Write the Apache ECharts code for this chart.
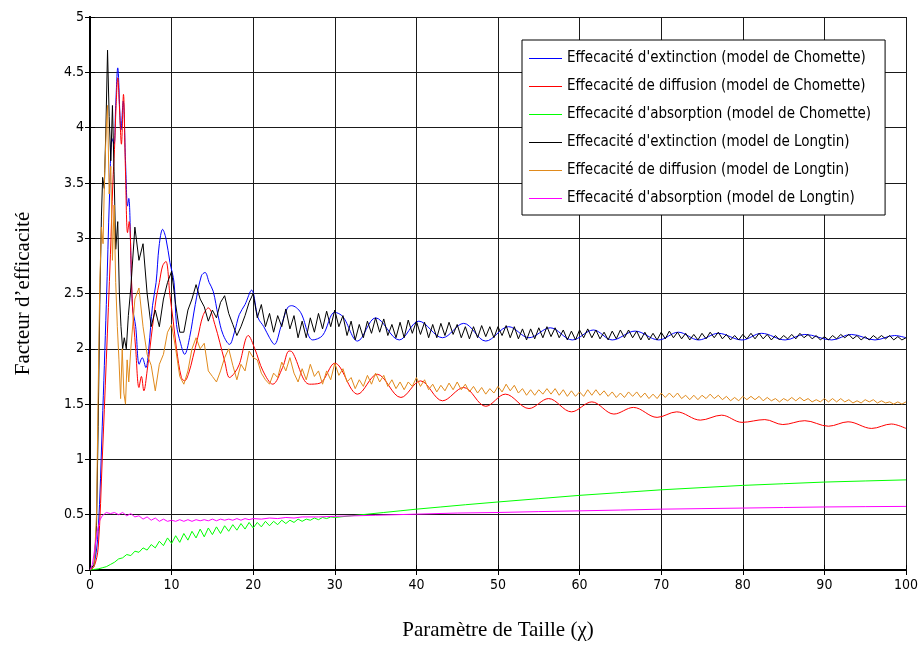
<!DOCTYPE html>
<html><head><meta charset="utf-8">
<script src="https://cdn.jsdelivr.net/npm/echarts@6/dist/echarts.min.js"></script>
<style>html,body{margin:0;padding:0;background:#fff}#c{width:921px;height:646px}</style>
</head><body><div id="c"></div>
<script>
// ---- data ----
const names = [
  "Effecacité d'extinction (model de Chomette)",
  "Effecacité de diffusion (model de Chomette)",
  "Effecacité d'absorption (model de Chomette)",
  "Effecacité d'extinction (model de Longtin)",
  "Effecacité de diffusion (model de Longtin)",
  "Effecacité d'absorption (model de Longtin)"
];
const xTicks = [0,10,20,30,40,50,60,70,80,90,100];
const yTicks = [0,0.5,1,1.5,2,2.5,3,3.5,4,4.5,5];

// Chomette extinction (blue)
const blueX = [0,0.5,1,1.5,2,2.4,2.7,2.95,3.15,3.4,3.8,4.07,4.35,4.6,4.75,5.2,5.6,6.03,6.4,6.85,7.2,7.66,8.1,8.47,8.9,9.3,9.8,10.3,10.6,11.1,11.6,12.2,12.9,13.65,14.1,14.6,15.1,15.7,16.3,17.1,17.7,18.3,19.0,19.8,20.6,21.3,22,22.6,23.4,24.2,24.7,25.8,27.3,28.5,30,31,32.8,35,37.9,40.3,43.2,45.8,48.5,51.3,53.8,56.4,59.1,61.7,64,66.8,69.7,72.1,74.6,77,79.9,82.3,85.2,87.6,90.9,93.3,96.2,98.6,100];
const blueY = [0,0.05,0.35,1.3,2.4,3.4,3.9,3.85,4.2,4.54,3.98,4.24,3.7,3.29,3.36,2.39,2.2,1.86,1.92,1.83,2.0,2.39,2.6,2.93,3.08,3.0,2.78,2.6,2.22,2.05,1.95,2.1,2.4,2.66,2.69,2.6,2.52,2.3,2.13,2.04,2.15,2.31,2.4,2.53,2.28,2.2,2.1,2.04,2.2,2.37,2.39,2.33,2.08,2.12,2.33,2.29,2.07,2.28,2.08,2.25,2.1,2.23,2.07,2.2,2.1,2.19,2.08,2.17,2.08,2.16,2.08,2.15,2.08,2.14,2.08,2.14,2.08,2.13,2.08,2.13,2.08,2.12,2.1];

// Chomette diffusion (red)
const redX = [0,0.5,1.0,1.5,2.0,2.5,2.8,3.0,3.2,3.4,3.6,3.85,4.1,4.35,4.6,4.8,5.2,5.6,6.0,6.3,6.6,7.0,7.66,8.1,8.5,8.9,9.3,9.8,10.2,10.6,11.2,11.6,12.1,12.6,13.2,13.85,14.5,15.3,16.5,17.1,17.7,18.3,19.4,20.2,21.2,22.4,23.6,24.4,24.8,26.9,28.2,30,32.8,35.2,38.1,40.5,43.2,45.8,48.5,50.9,53.8,56.2,59,61.5,64.2,66.6,69.5,71.9,74.8,77.4,79.9,82.7,84.9,87.6,90.5,92.9,95.8,98.2,100];
const redY = [0,0.03,0.2,1.0,1.9,2.85,3.5,3.8,4.2,4.45,4.2,3.85,4.3,3.6,3.05,3.15,2.4,2.0,1.65,1.75,1.62,1.8,2.2,2.45,2.6,2.75,2.79,2.48,2.25,2.0,1.74,1.71,1.78,1.92,2.1,2.3,2.37,2.22,1.89,1.74,1.78,1.86,2.12,2.0,1.8,1.68,1.83,1.98,1.97,1.68,1.69,1.87,1.59,1.77,1.56,1.71,1.53,1.65,1.48,1.59,1.46,1.55,1.43,1.52,1.41,1.47,1.38,1.43,1.355,1.40,1.335,1.36,1.315,1.35,1.30,1.34,1.28,1.32,1.28];

// Chomette absorption (green)
const greenX = [0,0.5,1,1.5,2,2.5,3,3.5,4,4.5,5,5.5,6,6.5,7,7.5,8,8.5,9,9.5,10,10.5,11,11.5,12,12.5,13,13.5,14,14.5,15,15.5,16,16.5,17,17.5,18,18.5,19,19.5,20,20.5,21,21.5,22,22.5,23,23.5,24,24.5,25,25.5,26,26.5,27,27.5,28,28.5,29,29.5,30,32,34,36,38,40,43,46,50,55,60,65,70,75,80,85,90,95,100];
const greenY = [0,0.005,0.01,0.02,0.03,0.05,0.07,0.1,0.11,0.14,0.13,0.17,0.16,0.2,0.18,0.23,0.2,0.26,0.22,0.29,0.24,0.31,0.25,0.33,0.27,0.35,0.29,0.37,0.3,0.38,0.32,0.39,0.33,0.4,0.35,0.41,0.36,0.42,0.37,0.43,0.38,0.43,0.39,0.44,0.4,0.44,0.41,0.45,0.42,0.45,0.43,0.46,0.44,0.46,0.45,0.47,0.455,0.475,0.465,0.48,0.475,0.49,0.505,0.52,0.535,0.55,0.57,0.59,0.615,0.645,0.675,0.7,0.725,0.745,0.765,0.78,0.795,0.805,0.815];

// Longtin extinction (black): early points, then values every 0.5 from 5 to 100
const blackEarlyX = [0,0.5,0.8,1.0,1.2,1.4,1.55,1.75,1.95,2.15,2.35,2.55,2.75,2.95,3.15,3.4,3.6,3.8,4.0,4.2,4.45,4.7];
const blackEarlyY = [0,0.05,0.4,1.3,2.4,3.2,3.55,3.45,4.0,4.7,4.1,3.7,4.2,3.6,2.9,3.15,2.5,2.2,2.0,2.1,2.0,2.3];
const blackY = [2.55,3.1,2.8,2.95,2.5,2.2,2.35,2.2,2.45,2.6,2.7,2.4,2.15,2.15,2.35,2.45,2.58,2.45,2.38,2.25,2.35,2.28,2.42,2.48,2.32,2.22,2.12,2.2,2.3,2.42,2.5,
 2.28,2.4,2.2,2.32,2.15,2.3,2.2,2.36,2.18,2.3,2.1,2.25,2.1,2.28,2.15,2.32,2.18,2.34,2.2,2.35,2.2,2.3,2.12,2.25,2.08,2.22,2.1,2.25,2.14,2.28,2.15,2.27,2.12,2.22,2.1,2.24,2.1,2.26,2.14,2.25,
 2.13,2.24,2.1,2.22,2.1,2.23,2.12,2.24,2.13,2.22,2.1,2.2,2.09,2.2,2.1,2.21,2.11,2.2,2.1,2.2,2.12,2.21,2.1,2.2,2.09,2.18,2.08,2.18,2.09,2.19,2.1,2.2,2.11,2.19,2.1,2.17,2.08,2.16,2.08,2.17,
 2.1,2.18,2.1,2.17,2.09,2.15,2.08,2.16,2.09,2.17,2.1,2.17,2.1,2.16,2.08,2.15,2.08,2.14,2.08,2.15,2.09,2.16,2.1,2.15,2.09,2.14,2.08,2.13,2.08,2.14,2.09,2.15,2.1,2.15,2.09,2.13,2.08,2.12,2.08,2.13,
 2.09,2.14,2.09,2.14,2.09,2.13,2.08,2.12,2.08,2.12,2.09,2.13,2.09,2.14,2.1,2.13,2.09,2.12,2.08,2.11,2.08,2.12,2.09,2.13,2.1,2.13,2.09,2.12,2.08,2.11,2.08,2.12,2.09,2.12,2.09,2.12,2.08,2.11,2.08,2.1];

// Longtin diffusion (orange)
const orangeEarlyX = [0,0.5,0.8,1.0,1.2,1.4,1.6,1.8,2.0,2.15,2.35,2.55,2.75,2.95,3.15,3.35,3.55,3.75,3.95,4.15,4.35,4.55,4.75];
const orangeEarlyY = [0,0.03,0.5,1.6,2.6,3.1,2.95,3.6,4.0,4.2,3.4,3.65,2.8,3.3,2.6,2.2,1.9,1.55,2.0,1.6,1.5,1.9,1.7];
const orangeY = [2.0,2.45,2.55,2.2,1.95,1.85,1.62,1.86,1.95,2.15,2.22,2.0,1.75,1.68,1.8,2.0,2.1,2.0,2.05,1.8,1.75,1.7,1.8,1.92,2.0,1.85,1.72,1.86,1.8,1.98,1.92,
 1.9,1.78,1.72,1.68,1.78,1.74,1.88,1.8,1.92,1.78,1.7,1.82,1.72,1.86,1.75,1.8,1.68,1.8,1.72,1.87,1.76,1.82,1.7,1.74,1.64,1.72,1.66,1.76,1.68,1.78,1.7,1.76,1.66,1.72,1.64,1.7,1.63,1.7,1.66,1.74,
 1.66,1.72,1.63,1.68,1.61,1.67,1.62,1.69,1.63,1.7,1.63,1.68,1.61,1.66,1.6,1.65,1.59,1.64,1.6,1.66,1.61,1.68,1.62,1.67,1.6,1.64,1.58,1.63,1.58,1.63,1.59,1.64,1.59,1.64,1.58,1.63,1.57,1.62,1.57,1.61,
 1.57,1.63,1.58,1.63,1.58,1.62,1.57,1.61,1.56,1.6,1.56,1.61,1.57,1.61,1.56,1.6,1.55,1.59,1.55,1.6,1.56,1.6,1.56,1.6,1.55,1.58,1.54,1.58,1.54,1.58,1.55,1.59,1.55,1.58,1.54,1.57,1.53,1.56,1.53,1.57,
 1.54,1.57,1.54,1.57,1.53,1.56,1.53,1.55,1.52,1.55,1.53,1.56,1.53,1.56,1.53,1.55,1.52,1.54,1.52,1.55,1.52,1.55,1.52,1.55,1.52,1.54,1.51,1.53,1.51,1.54,1.52,1.54,1.51,1.53,1.51,1.52,1.5,1.52,1.5,1.52];

// Longtin absorption (magenta)
const magX = [0,0.3,0.6,0.9,1.2,1.5,2,2.5,3,3.5,4,4.5,5,5.5,6,6.5,7,7.5,8,8.5,9,9.5,10,10.5,11,11.5,12,12.5,13,13.5,14,14.5,15,15.5,16,16.5,17,17.5,18,18.5,19,19.5,20,21,22,23,24,25,26,28,30,35,40,45,50,55,60,65,70,75,80,85,90,95,100];
const magY = [0,0.05,0.2,0.35,0.45,0.49,0.52,0.51,0.52,0.5,0.52,0.49,0.51,0.48,0.49,0.46,0.48,0.45,0.47,0.44,0.46,0.44,0.45,0.44,0.455,0.44,0.455,0.44,0.455,0.445,0.455,0.445,0.46,0.445,0.46,0.45,0.46,0.45,0.465,0.45,0.465,0.455,0.465,0.46,0.47,0.465,0.475,0.47,0.48,0.48,0.485,0.495,0.505,0.515,0.52,0.528,0.535,0.542,0.55,0.555,0.56,0.565,0.57,0.573,0.575];

const GRID_START = 5, GRID_STEP = 0.5; // x positions of blackY / orangeY samples

// ---- build ----
function zip(xs, ys){ return xs.map((x,i)=>[x, ys[i]]); }
function gridPairs(ys){ return ys.map((y,i)=>[GRID_START + i*GRID_STEP, y]); }
const seriesData = [
  zip(blueX, blueY),
  zip(redX, redY),
  zip(greenX, greenY),
  zip(blackEarlyX, blackEarlyY).concat(gridPairs(blackY)),
  zip(orangeEarlyX, orangeEarlyY).concat(gridPairs(orangeY)),
  zip(magX, magY)
];
const colors = ['#0000ff','#ff0000','#00ff00','#000000','#e08a1c','#ff00ff'];
const smoothness = [0.35, 0.35, 0, 0, 0, 0];

const FONT = "'Liberation Sans Narrow','DejaVu Sans Condensed','Liberation Sans',Arial,sans-serif";
const SERIF = "'Liberation Serif','Times New Roman',serif";

const chart = echarts.init(document.getElementById('c'), null, {renderer:'canvas'});
chart.setOption({
  animation:false,
  backgroundColor:'#fff',
  grid:{left:90, right:12, top:17, bottom:73, containLabel:false},
  legend:{
    show:true,
    orient:'vertical', left:522, top:40,
    backgroundColor:'#fff', borderColor:'#000', borderWidth:1,
    padding:[11,14,9,7], itemGap:13, itemWidth:33, itemHeight:1,
    icon:'rect', symbolKeepAspect:false,
    textStyle:{fontFamily:FONT, fontSize:15, color:'#000'},
    data:names
  },
  xAxis:[{
    type:'value', min:0, max:100, interval:10,
    name:'Paramètre de Taille (χ)', nameLocation:'middle', nameGap:50,
    nameTextStyle:{fontFamily:SERIF, fontSize:21, color:'#000'},
    axisLine:{show:true, lineStyle:{color:'#000', width:2}},
    axisTick:{show:true, inside:true, length:5, lineStyle:{color:'#000'}},
    axisLabel:{fontFamily:FONT, fontSize:14, color:'#000', margin:8},
    splitLine:{show:true, lineStyle:{color:'#1a1a1a', width:1}}
  },{
    type:'value', min:0, max:100, interval:10, position:'top',
    axisLine:{show:true, lineStyle:{color:'#000', width:2}},
    axisTick:{show:true, inside:true, length:5, lineStyle:{color:'#000'}},
    axisLabel:{show:false}, splitLine:{show:false}
  }],
  yAxis:[{
    type:'value', min:0, max:5, interval:0.5,
    name:'Facteur d’efficacité', nameLocation:'middle', nameGap:56,
    nameTextStyle:{fontFamily:SERIF, fontSize:21, color:'#000'},
    axisLine:{show:true, lineStyle:{color:'#000', width:2}},
    axisTick:{show:true, inside:true, length:5, lineStyle:{color:'#000'}},
    axisLabel:{fontFamily:FONT, fontSize:14, color:'#000', margin:6},
    splitLine:{show:true, lineStyle:{color:'#1a1a1a', width:1}}
  },{
    type:'value', min:0, max:5, interval:0.5, position:'right',
    axisLine:{show:true, lineStyle:{color:'#000', width:2}},
    axisTick:{show:true, inside:true, length:5, lineStyle:{color:'#000'}},
    axisLabel:{show:false}, splitLine:{show:false}
  }],
  series:names.map((n,i)=>({
    name:n, type:'line', data:seriesData[i], showSymbol:false, symbol:'none',
    lineStyle:{color:colors[i], width:1}, itemStyle:{color:colors[i]}, color:colors[i],
    xAxisIndex:0, yAxisIndex:0, smooth:smoothness[i], z:2+i
  }))
});
</script></body></html>
